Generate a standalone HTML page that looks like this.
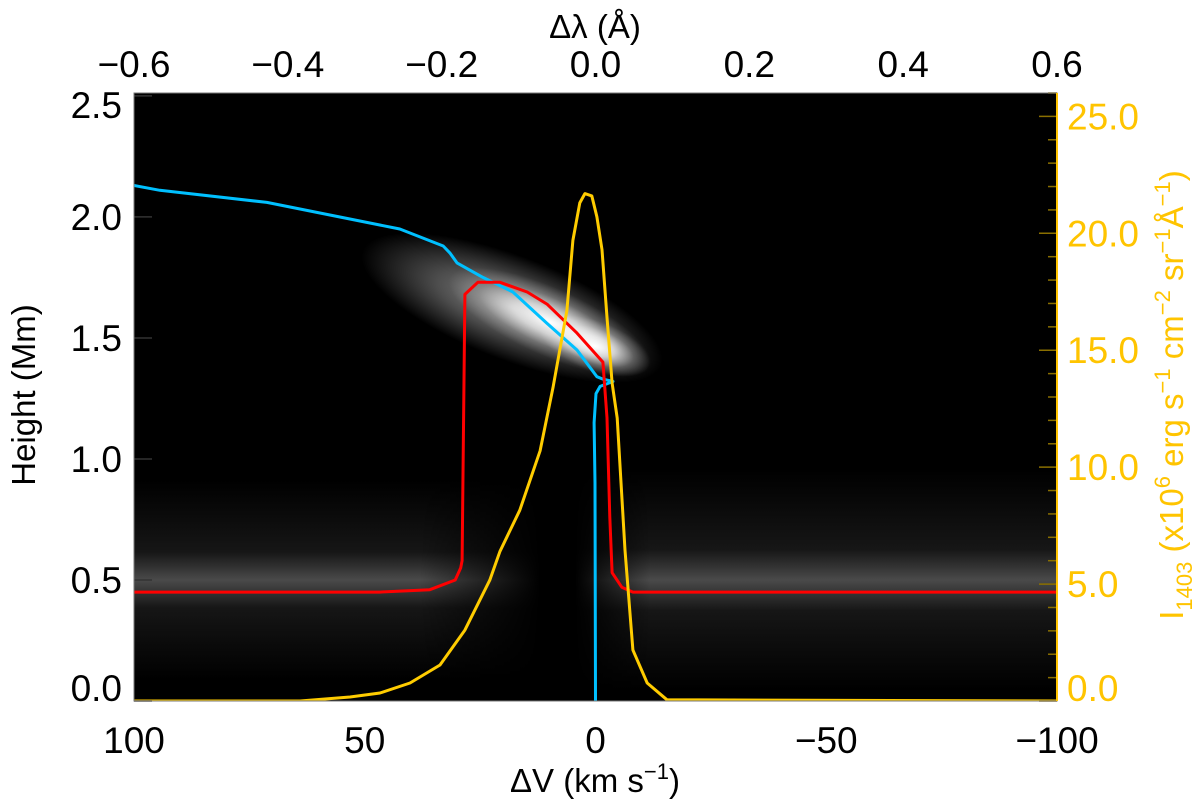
<!DOCTYPE html>
<html><head><meta charset="utf-8"><style>
html,body{margin:0;padding:0;background:#fff;}
svg{display:block;font-family:"Liberation Sans",Arial,sans-serif;}
</style></head><body>
<svg id="chart" width="1200" height="812" viewBox="0 0 1200 812" xmlns="http://www.w3.org/2000/svg">
<defs>
<linearGradient id="bandV" x1="0" y1="0" x2="0" y2="1">
  <stop offset="0" stop-color="#000"/>
  <stop offset="0.2" stop-color="#0c0c0c"/>
  <stop offset="0.36" stop-color="#161616"/>
  <stop offset="0.44" stop-color="#333"/>
  <stop offset="0.5" stop-color="#4a4a4a"/>
  <stop offset="0.56" stop-color="#333"/>
  <stop offset="0.64" stop-color="#161616"/>
  <stop offset="0.8" stop-color="#0c0c0c"/>
  <stop offset="1" stop-color="#000"/>
</linearGradient>
<linearGradient id="fadeLeft" gradientUnits="userSpaceOnUse" x1="420" y1="0" x2="540" y2="0">
  <stop offset="0" stop-color="#fff"/><stop offset="1" stop-color="#000"/>
</linearGradient>
<linearGradient id="fadeRight" gradientUnits="userSpaceOnUse" x1="575" y1="0" x2="650" y2="0">
  <stop offset="0" stop-color="#000"/><stop offset="1" stop-color="#fff"/>
</linearGradient>
<mask id="maskLeft" maskUnits="userSpaceOnUse" x="0" y="0" width="1200" height="812"><rect x="0" y="0" width="1200" height="812" fill="url(#fadeLeft)"/></mask>
<mask id="maskRight" maskUnits="userSpaceOnUse" x="0" y="0" width="1200" height="812"><rect x="0" y="0" width="1200" height="812" fill="url(#fadeRight)"/></mask>
<radialGradient id="glow">
  <stop offset="0" stop-color="#fff" stop-opacity="1"/>
  <stop offset="0.35" stop-color="#fff" stop-opacity="0.7"/>
  <stop offset="0.7" stop-color="#fff" stop-opacity="0.2"/>
  <stop offset="1" stop-color="#fff" stop-opacity="0"/>
</radialGradient>
<radialGradient id="glowSoft">
  <stop offset="0" stop-color="#fff" stop-opacity="0.55"/>
  <stop offset="0.5" stop-color="#fff" stop-opacity="0.3"/>
  <stop offset="1" stop-color="#fff" stop-opacity="0"/>
</radialGradient>
<clipPath id="plotClip"><rect x="134" y="93" width="923" height="608"/></clipPath>
</defs>
<rect x="134" y="93" width="923" height="608" fill="#000"/>
<g clip-path="url(#plotClip)">
  <rect x="134" y="480" width="420" height="200" fill="url(#bandV)" mask="url(#maskLeft)"/>
  <rect x="570" y="470" width="490" height="220" fill="url(#bandV)" mask="url(#maskRight)"/>
  <ellipse cx="512" cy="308" rx="160" ry="52" fill="url(#glowSoft)" transform="rotate(21 512 308)"/>
  <ellipse cx="550" cy="322" rx="110" ry="34" fill="url(#glow)" transform="rotate(24 550 322)"/>
  <ellipse cx="595" cy="346" rx="58" ry="25" fill="url(#glow)" transform="rotate(20 595 346)"/>
</g>
<g id="series" clip-path="url(#plotClip)"></g>
<g id="axes"></g>
<rect x="134" y="93" width="923" height="608" fill="none" stroke="#777" stroke-width="1"/>
<line x1="1057" y1="93" x2="1057" y2="701" stroke="#ffc400" stroke-width="2"/>
<text x="595" y="38" font-size="33" text-anchor="middle">Δλ (Å)</text>
<text x="595" y="792" font-size="33" text-anchor="middle">ΔV (km s<tspan dy="-13" font-size="22">−1</tspan><tspan dy="13">)</tspan></text>
<text transform="translate(35,395) rotate(-90)" font-size="33" text-anchor="middle">Height (Mm)</text>
<text transform="translate(1183,395) rotate(-90)" font-size="33" text-anchor="middle" fill="#ffc400">I<tspan dy="9" font-size="22">1403</tspan><tspan dy="-9"> (x10</tspan><tspan dy="-13" font-size="22">6</tspan><tspan dy="13"> erg s</tspan><tspan dy="-13" font-size="22">−1</tspan><tspan dy="13"> cm</tspan><tspan dy="-13" font-size="22">−2</tspan><tspan dy="13"> sr</tspan><tspan dy="-13" font-size="22">−1</tspan><tspan dy="13">Å</tspan><tspan dy="-13" font-size="22">−1</tspan><tspan dy="13">)</tspan></text>
</svg>
<script>
// Axis domains
const xDomain = [100, -100];
const yDomain = [0, 2.512];
const iDomain = [0, 26.0];
const bottomTicks = [100, 50, 0, -50, -100];
const bottomTickLabels = ["100", "50", "0", "\u221250", "\u2212100"];
const topTicks = [-0.6, -0.4, -0.2, 0.0, 0.2, 0.4, 0.6];
const topTickLabels = ["\u22120.6", "\u22120.4", "\u22120.2", "0.0", "0.2", "0.4", "0.6"];
const leftTicks = [0, 0.5, 1.0, 1.5, 2.0, 2.5];
const leftTickLabels = ["0.0", "0.5", "1.0", "1.5", "2.0", "2.5"];
const rightTicks = [0, 5, 10, 15, 20, 25];
const rightTickLabels = ["0.0", "5.0", "10.0", "15.0", "20.0", "25.0"];

// Series: blue (velocity vs height), red (tau=1 height), yellow (intensity)
const blueV = [100, 94.4, 71.2, 42.4, 33.0, 31.5, 30.0, 24.4, 17.9, 10.5, 4.0, -0.3, -1.6, -3.8, -1.0, -0.1, 0.3, 0.1, 0.0];
const blueH = [2.13, 2.11, 2.06, 1.95, 1.88, 1.85, 1.81, 1.75, 1.69, 1.56, 1.45, 1.34, 1.33, 1.32, 1.30, 1.27, 1.15, 0.90, 0.0];
const redV = [100, 46.7, 35.9, 30.4, 29.2, 28.9, 28.3, 25.5, 20.7, 14.8, 10.5, 4.0, -1.6, -2.5, -3.1, -3.6, -5.7, -8.1, -100];
const redH = [0.45, 0.45, 0.46, 0.50, 0.55, 0.58, 1.68, 1.73, 1.73, 1.69, 1.64, 1.52, 1.40, 1.17, 0.76, 0.53, 0.47, 0.45, 0.45];
const yelV = [100, 64.0, 53.2, 46.7, 40.2, 33.7, 28.3, 22.9, 20.7, 16.4, 12.0, 9.2, 6.2, 4.9, 3.4, 2.3, 0.8, -0.3, -1.4, -2.5, -3.6, -4.7, -6.4, -8.1, -11.2, -15.5, -100];
const yelI = [0, 0, 0.17, 0.34, 0.77, 1.54, 3.03, 5.17, 6.4, 8.16, 10.7, 13.4, 16.7, 19.7, 21.3, 21.7, 21.6, 20.7, 19.3, 16.4, 13.6, 12.1, 6.45, 2.18, 0.77, 0.05, 0];

const PL = 134, PR = 1057, PT = 93, PB = 701;
const NS = "http://www.w3.org/2000/svg";
function xScale(v){ return PL + (v - xDomain[0]) / (xDomain[1] - xDomain[0]) * (PR - PL); }
function lamScale(l){ return PL + (l + 0.6) / 1.2 * (PR - PL); }
function yScale(h){ return PB - (h - yDomain[0]) / (yDomain[1] - yDomain[0]) * (PB - PT); }
function iScale(i){ return PB - (i - iDomain[0]) / (iDomain[1] - iDomain[0]) * (PB - PT); }
function mk(tag, attrs, parent){ const e = document.createElementNS(NS, tag); for (const k in attrs) e.setAttribute(k, attrs[k]); parent.appendChild(e); return e; }

const series = document.getElementById('series');
function line(xs, ys, fx, fy, color, name){
  let d = '';
  for (let i = 0; i < xs.length; i++) d += (i ? 'L' : 'M') + fx(xs[i]).toFixed(1) + ',' + fy(ys[i]).toFixed(1);
  const p = mk('path', {d: d, fill: 'none', stroke: color, 'stroke-width': 3, 'stroke-linejoin': 'round'}, series);
  
  
}
line(blueV, blueH, xScale, yScale, '#00c0ff', 'velocity-line');
line(redV, redH, xScale, yScale, '#ff0000', 'tau-unity-line');
line(yelV, yelI, xScale, iScale, '#ffcc00', 'intensity-profile-line');

const axes = document.getElementById('axes');
bottomTicks.forEach((v, i) => {
  const t = mk('text', {x: xScale(v), y: 753, 'font-size': 37, 'text-anchor': 'middle'}, axes);
  t.textContent = bottomTickLabels[i];
  
  
});
topTicks.forEach((v, i) => {
  const t = mk('text', {x: lamScale(v), y: 77, 'font-size': 37, 'text-anchor': 'middle'}, axes);
  t.textContent = topTickLabels[i];
  
  
});
leftTicks.forEach((v, i) => {
  let cy = yScale(v);
  if (i === 0) cy -= 13;
  if (i === leftTicks.length - 1) cy += 9;
  const t = mk('text', {x: 122, y: cy + 13, 'font-size': 37, 'text-anchor': 'end'}, axes);
  t.textContent = leftTickLabels[i];
  
  
  const tk = mk('line', {x1: PL, x2: PL + 18, y1: yScale(v), y2: yScale(v), stroke: '#333', 'stroke-width': 1.5}, axes);
  
  
});
for (let v = 0; v <= 26; v++) {
  const major = v % 5 === 0;
  const tk = mk('line', {x1: PR - (major ? 18 : 9), x2: PR, y1: iScale(v), y2: iScale(v), stroke: '#8a6f00', 'stroke-width': 1.5}, axes);
  
  
}
rightTicks.forEach((v, i) => {
  let cy = iScale(v);
  if (i === 0) cy -= 13;
  const t = mk('text', {x: 1067, y: cy + 13, 'font-size': 37, fill: '#ffc400'}, axes);
  t.textContent = rightTickLabels[i];
  
  
});
</script>
</body></html>
